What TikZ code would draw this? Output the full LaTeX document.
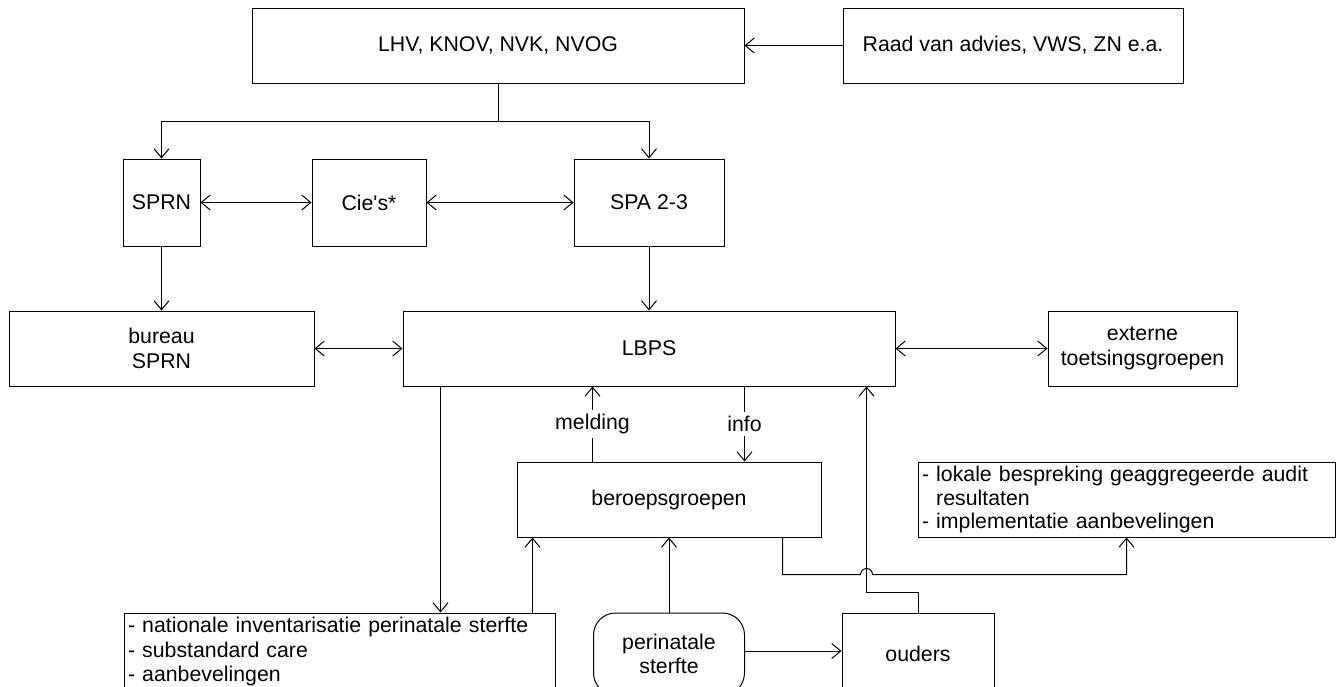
\documentclass[tikz,border=0pt]{standalone}
\usepackage{fontspec}
\setmainfont{Liberation Sans}[Ligatures=TeXOff]
\usetikzlibrary{arrows.meta}
\begin{document}
\begin{tikzpicture}[x=1pt,y=1pt,
  every node/.style={font=\fontsize{21.3}{24.5}\selectfont},
  box/.style={draw, line width=1pt, inner sep=0pt, align=center},
  lbox/.style={draw, line width=1pt, inner xsep=4pt, inner ysep=0pt, align=left},
  conn/.style={line width=1pt, -{Straight Barb[length=9pt,width=15pt]}},
  biconn/.style={line width=1pt, {Straight Barb[length=9pt,width=15pt]}-{Straight Barb[length=9pt,width=15pt]}},
  plain/.style={line width=1pt},
  lab/.style={fill=white, inner xsep=2pt, inner ysep=4pt}
]
\useasboundingbox (0,0) rectangle (1343,-686);

% top row
\node[box, minimum width=492pt, minimum height=75pt] (lhv) at (498,-45.5) {LHV, KNOV, NVK, NVOG};
\node[box, minimum width=340pt, minimum height=75pt] (raad) at (1013,-45.5) {Raad van advies, VWS, ZN e.a.};

% second row
\node[box, minimum width=77pt, minimum height=87pt] (sprn) at (161.5,-202.5) {SPRN};
\node[box, minimum width=114pt, minimum height=87pt] (cies) at (369,-202.5) {Cie's*};
\node[box, minimum width=150pt, minimum height=87pt] (spa) at (649,-202.5) {SPA 2-3};

% third row
\node[box, minimum width=305pt, minimum height=75pt] (bureau) at (161.5,-348.5) {bureau\\SPRN};
\node[box, minimum width=492pt, minimum height=75pt] (lbps) at (649,-348.5) {LBPS};
\node[box, minimum width=189pt, minimum height=75pt] (externe) at (1142.5,-348.5) {externe\\toetsingsgroepen};

% fourth row
\node[box, minimum width=304pt, minimum height=75pt] (ber) at (669,-499.5) {beroepsgroepen};
\node[lbox, text width=409pt, minimum height=75pt, font=\fontsize{21.3}{23.5}\selectfont] (lokale) at (1126.5,-499.5)
  {- lokale bespreking geaggregeerde audit\\\phantom{- }resultaten\\- implementatie aanbevelingen};

% bottom row (cut by the lower edge of the picture)
\node[lbox, text width=423pt, minimum height=77pt] (nat) at (339.5,-651.5)
  {- nationale inventarisatie perinatale sterfte\\- substandard care\\- aanbevelingen};
\node[box, minimum width=151pt, minimum height=82pt, rounded corners=22pt] (peri) at (669,-654) {perinatale\\sterfte};
\node[box, minimum width=152pt, minimum height=82pt] (ouders) at (918,-654) {ouders};

% connectors
\draw[conn] (raad.west) -- (lhv.east);
\coordinate (j) at (lhv.south |- 0,-121);
\draw[plain] (lhv.south) -- (j);
\draw[conn] (j) -| (sprn.north);
\draw[conn] (j) -| (spa.north);
\draw[biconn] (sprn.east) -- (cies.west);
\draw[biconn] (cies.east) -- (spa.west);
\draw[conn] (sprn.south) -- (bureau.north);
\draw[conn] (spa.south) -- (lbps.north);
\draw[biconn] (bureau.east) -- (lbps.west);
\draw[biconn] (lbps.east) -- (externe.west);

\path ([xshift=38pt]lbps.south west) coordinate (p1);
\draw[conn] (p1) -- (p1 |- nat.north);
\path ([xshift=-23pt]nat.north east) coordinate (p2);
\draw[conn] (p2) -- (p2 |- ber.south);
\path ([xshift=76pt]ber.north west) coordinate (p3);
\draw[conn] (p3) -- node[lab] (lmeld) {melding} (p3 |- lbps.south);
\path ([xshift=-77pt]ber.north east) coordinate (p4);
\draw[conn] (p4 |- lbps.south) -- node[lab] (linfo) {info} (p4);
\draw[conn] (peri.north) -- (ber.south);
\path ([yshift=3pt]peri.east) coordinate (p7);
\draw[conn] (p7) -- (p7 -| ouders.west);

\path ([xshift=-29pt]lbps.south east) coordinate (p5);
\draw[conn] (ouders.north) -- ++(0,20) -| (p5);

\path ([xshift=-39pt]ber.south east) coordinate (p6);
\path (p6) ++(0,-37) coordinate (h0);
\coordinate (hopc) at (p5 |- h0);
\draw[conn] (p6) -- (h0) -- ([xshift=-6pt]hopc) arc[start angle=180, end angle=0, radius=6pt] -| (lokale.south);
\end{tikzpicture}
\end{document}
